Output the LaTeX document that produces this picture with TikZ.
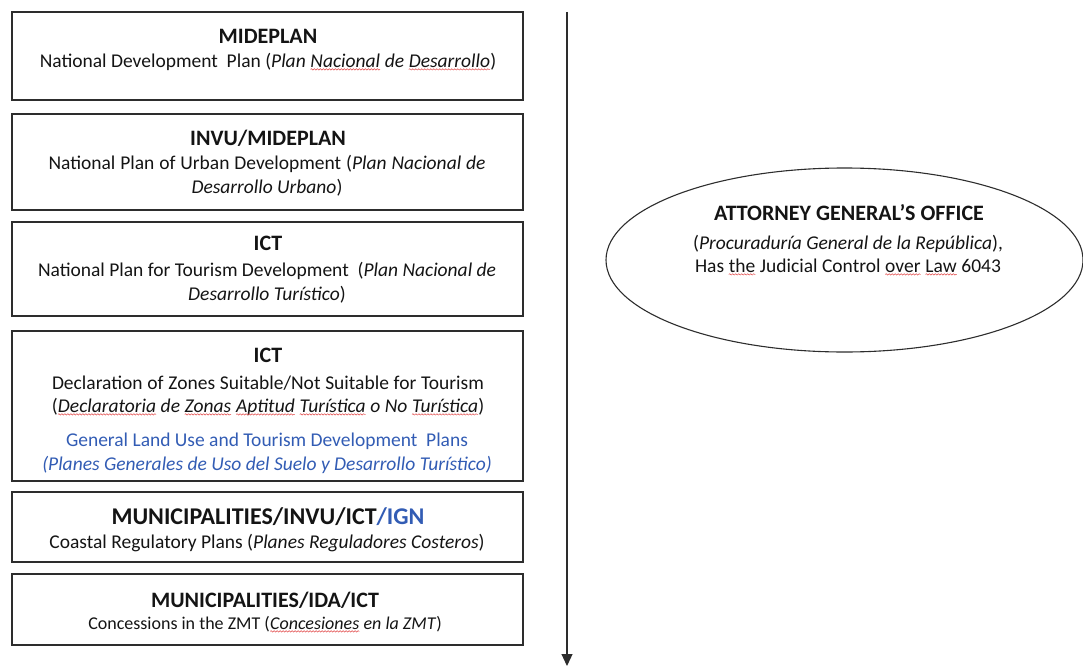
\documentclass[tikz,border=0pt]{standalone}
\usepackage{fontspec}
\setmainfont{Carlito}
\usetikzlibrary{arrows.meta,decorations.pathmorphing,shapes.geometric}
\definecolor{inkblue}{RGB}{50,92,180}
\definecolor{boxline}{RGB}{45,45,45}
\definecolor{spellred}{RGB}{225,70,70}
\definecolor{ink}{RGB}{20,20,20}
\newcommand{\spl}[1]{\tikz[baseline=(sw.base)]{\node[inner sep=0pt,outer sep=0pt](sw){#1};\draw[spellred,line width=0.5pt,decorate,decoration={snake,amplitude=0.7pt,segment length=3pt}] ([yshift=-2.4pt]sw.base west) -- ([yshift=-2.4pt]sw.base east);}}
\tikzset{
  panel/.style={draw=boxline,line width=1.3pt,inner sep=0pt,minimum width=511pt},
  ttl/.style={font=\fontsize{22}{26}\selectfont\bfseries,inner sep=0pt,text=ink,anchor=base},
  bigttl/.style={font=\fontsize{24}{28}\selectfont\bfseries,inner sep=0pt,text=ink,anchor=base},
  body/.style={font=\fontsize{19.5}{24}\selectfont,inner sep=0pt,text=ink,anchor=base},
  smallbody/.style={body,font=\fontsize{18}{22}\selectfont},
  bluebody/.style={body,text=inkblue},
  oval/.style={ellipse,draw=boxline,line width=1.1pt,minimum width=477pt,minimum height=184pt,inner sep=0pt},
  flow/.style={-{Triangle[length=12pt,width=11pt]},line width=1.2pt,draw=boxline}
}
\begin{document}
\begin{tikzpicture}[x=1pt,y=-1pt]
\useasboundingbox (0,0) rectangle (1083,669);
% boxes
\node[panel,minimum height=88pt] (b1) at (267.5,56) {};
\node[panel,minimum height=96pt] (b2) at (267.5,162) {};
\node[panel,minimum height=94pt] (b3) at (267.5,269) {};
\node[panel,minimum height=150pt] (b4) at (267.5,406) {};
\node[panel,minimum height=70pt] (b5) at (267.5,527) {};
\node[panel,minimum height=71pt] (b6) at (267.5,609.5) {};
% box 1
\node[ttl] (t1) at (268,44) {MIDEPLAN};
\node[body] (l1a) at (268,67) {National Development\ \ Plan (\textit{Plan \spl{Nacional} de \spl{Desarrollo}})};
% box 2
\node[ttl] (t2) at (268,145) {INVU/MIDEPLAN};
\node[body] (l2a) at (267,169) {\makebox[437pt][s]{National Plan of Urban Development (\textit{Plan Nacional de}}};
\node[body] (l2b) at (267,193) {\textit{Desarrollo Urbano})};
% box 3
\node[ttl] (t3) at (268,250) {ICT};
\node[body] (l3a) at (267,276) {\makebox[458pt][s]{National Plan for Tourism Development\ \ (\textit{Plan Nacional de}}};
\node[body] (l3b) at (267,300) {\textit{Desarrollo Turístico})};
% box 4
\node[ttl] (t4) at (268,362) {ICT};
\node[body] (l4a) at (268,389) {\makebox[432pt][s]{Declaration of Zones Suitable/Not Suitable for Tourism}};
\node[body] (l4b) at (268,412) {(\textit{\spl{Declaratoria} de \spl{Zonas} \spl{Aptitud} \spl{Turística} o No \spl{Turística}})};
\node[bluebody] (l4c) at (267,446) {\makebox[402pt][s]{General Land Use and Tourism Development\ \ Plans}};
\node[bluebody] (l4d) at (267,470) {\textit{(Planes Generales de Uso del Suelo y Desarrollo Turístico)}};
% box 5
\node[bigttl] (t5) at (268,524) {MUNICIPALITIES/INVU/ICT\textcolor{inkblue}{/IGN}};
\node[body] (l5a) at (267,548) {Coastal Regulatory Plans (\textit{Planes Reguladores Costeros})};
% box 6
\node[ttl] (t6) at (265,607) {MUNICIPALITIES/IDA/ICT};
\node[smallbody] (l6a) at (265,629) {Concessions in the ZMT (\textit{\spl{Concesiones} en la ZMT})};
% arrow
\coordinate (atop) at (567,12);
\coordinate (abot) at (567,666);
\draw[flow] (atop) -- (abot);
% ellipse
\node[oval] (ag) at (844.5,260) {};
\node[ttl] (et) at (849,220) {ATTORNEY GENERAL’S OFFICE};
\node[body] (ea) at (848,249) {(\textit{Procuraduría\ General de la República}),};
\node[body] (eb) at (848,272) {Has \spl{the} Judicial Control \spl{over} \spl{Law} 6043};
\end{tikzpicture}
\end{document}
